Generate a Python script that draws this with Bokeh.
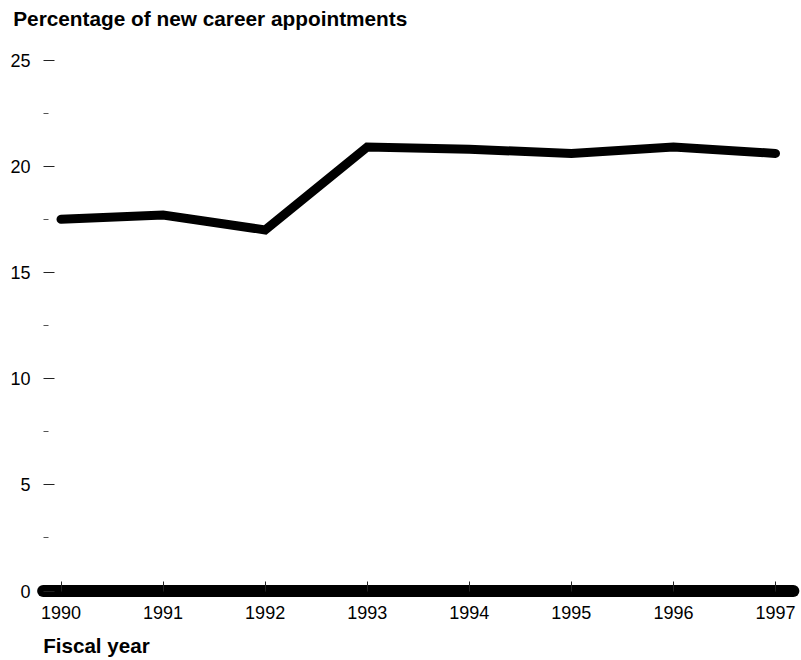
from bokeh.plotting import figure
from bokeh.models import Range1d, FixedTicker, Label
from bokeh.embed import file_html
from bokeh.resources import INLINE

# ---- data ----
years = [1990, 1991, 1992, 1993, 1994, 1995, 1996, 1997]
pct_new_career = [17.5, 17.7, 17.0, 20.9, 20.8, 20.6, 20.9, 20.6]
y_major_ticks = [0, 5, 10, 15, 20, 25]
y_minor_ticks = [2.5, 7.5, 12.5, 17.5, 22.5]
title_text = "Percentage of new career appointments"
xlabel_text = "Fiscal year"

# ---- layout (pixels inside figure) ----
W, H = 801, 660
px_first, px_last = 60.5, 775.0      # x pixel of first/last year
py_zero, py_top = 590.5, 59.5        # y pixel of 0 and 25
ppx = (px_last - px_first) / (years[-1] - years[0])
ppy = (py_zero - py_top) / 25.0

x_start = years[0] - px_first / ppx
x_end = years[-1] + (W - px_last) / ppx
y_end = 25 + py_top / ppy
y_start = -(H - py_zero) / ppy

FONT = "Liberation Sans"

p = figure(width=W, height=H, output_backend="svg", toolbar_location=None,
           title=None, x_range=Range1d(x_start, x_end),
           y_range=Range1d(y_start, y_end), min_border=0,
           outline_line_color=None)
p.xgrid.visible = False
p.ygrid.visible = False
p.background_fill_color = "white"
p.border_fill_color = "white"

# x axis on the zero line
xa = p.xaxis[0]
xa.fixed_location = 0
xa.ticker = FixedTicker(ticks=years)
xa.axis_line_color = None
xa.major_tick_in = 10
xa.major_tick_out = 0
xa.minor_tick_line_color = None
xa.major_tick_line_color = "#222222"
xa.major_label_standoff = 15
xa.major_label_text_font = FONT
xa.major_label_text_font_size = "18px"
xa.major_label_text_color = "black"

# y axis just left of first year
ya = p.yaxis[0]
ya.fixed_location = years[0] - (px_first - 43) / ppx
ya.ticker = FixedTicker(ticks=y_major_ticks, minor_ticks=y_minor_ticks)
ya.axis_line_color = None
ya.major_tick_in = 11
ya.major_tick_out = 0
ya.minor_tick_in = 5
ya.minor_tick_out = 0
ya.major_tick_line_color = "#222222"
ya.minor_tick_line_color = "#555555"
ya.major_label_standoff = 13
ya.major_label_text_font = FONT
ya.major_label_text_font_size = "18px"
ya.major_label_text_color = "black"

# baseline at zero
p.line(x=[years[0] - 0.175, years[-1] + 0.175], y=[0, 0], line_width=12,
       line_color="black", line_cap="round")

# data line
p.line(x=years, y=pct_new_career, line_width=9, line_color="black",
       line_cap="round", line_join="miter")

p.add_layout(Label(x=12.7, y=H - 18, x_units="screen", y_units="screen",
                   text=title_text, text_font=FONT, text_font_size="20.8px",
                   text_font_style="bold", text_color="black",
                   text_baseline="alphabetic", text_align="left"))
p.add_layout(Label(x=42.7, y=H - 645, x_units="screen", y_units="screen",
                   text=xlabel_text, text_font=FONT, text_font_size="20.6px",
                   text_font_style="bold", text_color="black",
                   text_baseline="alphabetic", text_align="left"))

open("out.html", "w").write(file_html(p, INLINE))
